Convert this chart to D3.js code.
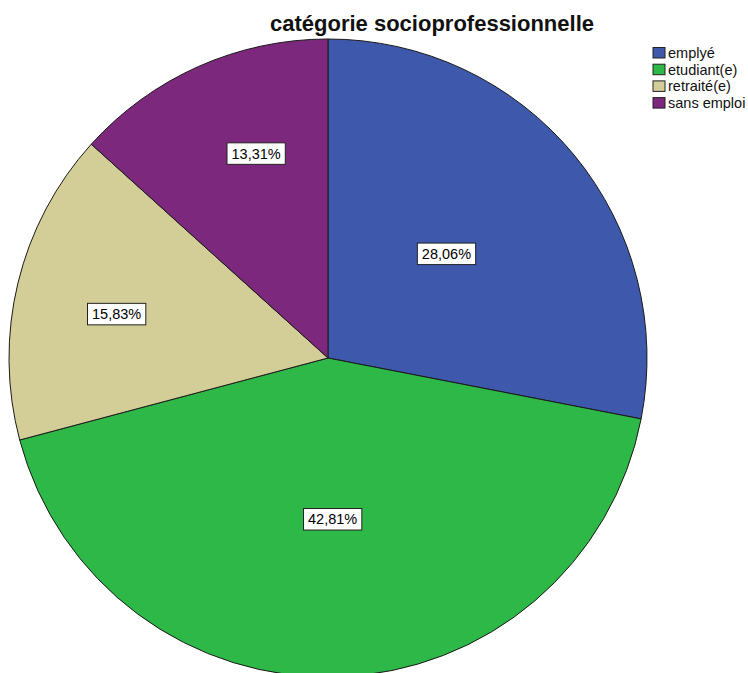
<!DOCTYPE html>
<html><head><meta charset="utf-8">
<script src="https://cdn.jsdelivr.net/npm/d3@7"></script>
<style>body{margin:0;background:#fff}svg{display:block}</style>
</head><body>
<script>
const categories = ["emplyé", "etudiant(e)", "retraité(e)", "sans emploi"];
const percents = [28.06, 42.81, 15.83, 13.31];
const colors = ["#3E58AC", "#2EB848", "#D3CE97", "#7C287D"];
const title = "catégorie socioprofessionnelle";

const W = 748, H = 673;
const cx = 328, cy = 358, R = 319;
// label placement (fraction of radius, angular shift in degrees)
const labelFactor = [0.495, 0.505, 0.677, 0.68];
const labelShift = [-1.9, 0.3, -1.8, 4.6];

const svg = d3.select("body").append("svg").attr("width", W).attr("height", H);
const data = categories.map((c, i) => ({cat: c, v: percents[i], i}));
const pie = d3.pie().value(d => d.v).sort(null);
const arcs = pie(data);
const arc = d3.arc().innerRadius(0).outerRadius(R);
const g = svg.append("g").attr("transform", `translate(${cx},${cy})`);
g.selectAll("path").data(arcs).join("path")
  .attr("d", arc).attr("fill", d => colors[d.data.i])
  .attr("stroke", "#1a1a1a").attr("stroke-width", 1);

const fmt = v => v.toFixed(2).replace(".", ",") + "%";
const lab = g.selectAll("g.lab").data(arcs).join("g").attr("class", "lab")
  .attr("transform", d => {
    const a = (d.startAngle + d.endAngle) / 2 + labelShift[d.data.i] * Math.PI / 180;
    const r = R * labelFactor[d.data.i];
    return `translate(${r * Math.sin(a)},${-r * Math.cos(a)})`;
  });
lab.append("text").text(d => fmt(d.data.v))
  .attr("text-anchor", "middle").attr("dy", "0.36em")
  .attr("font-family", "Liberation Sans, Arial, sans-serif").attr("font-size", 14.5).attr("fill", "#000");
lab.each(function() {
  const t = d3.select(this).select("text");
  const b = t.node().getBBox();
  d3.select(this).insert("rect", "text")
    .attr("x", b.x - 4.5).attr("y", -10.5).attr("width", b.width + 9).attr("height", 21.5)
    .attr("fill", "#fff").attr("stroke", "#222").attr("stroke-width", 1);
});

svg.append("text").text(title).attr("x", 432).attr("y", 31)
  .attr("text-anchor", "middle").attr("font-family", "Liberation Sans, Arial, sans-serif")
  .attr("font-weight", "bold").attr("font-size", 22).attr("fill", "#111");

const leg = svg.append("g").attr("transform", "translate(653,47.5)");
const li = leg.selectAll("g").data(categories).join("g")
  .attr("transform", (d, i) => `translate(0,${i * 16.7})`);
li.append("rect").attr("width", 12).attr("height", 10.5)
  .attr("fill", (d, i) => colors[i]).attr("stroke", "#222").attr("stroke-width", 1);
li.append("text").text(d => d).attr("x", 15).attr("y", 5.5).attr("dy", "0.35em")
  .attr("font-family", "Liberation Sans, Arial, sans-serif").attr("font-size", 14.5).attr("fill", "#111");
</script>
</body></html>
